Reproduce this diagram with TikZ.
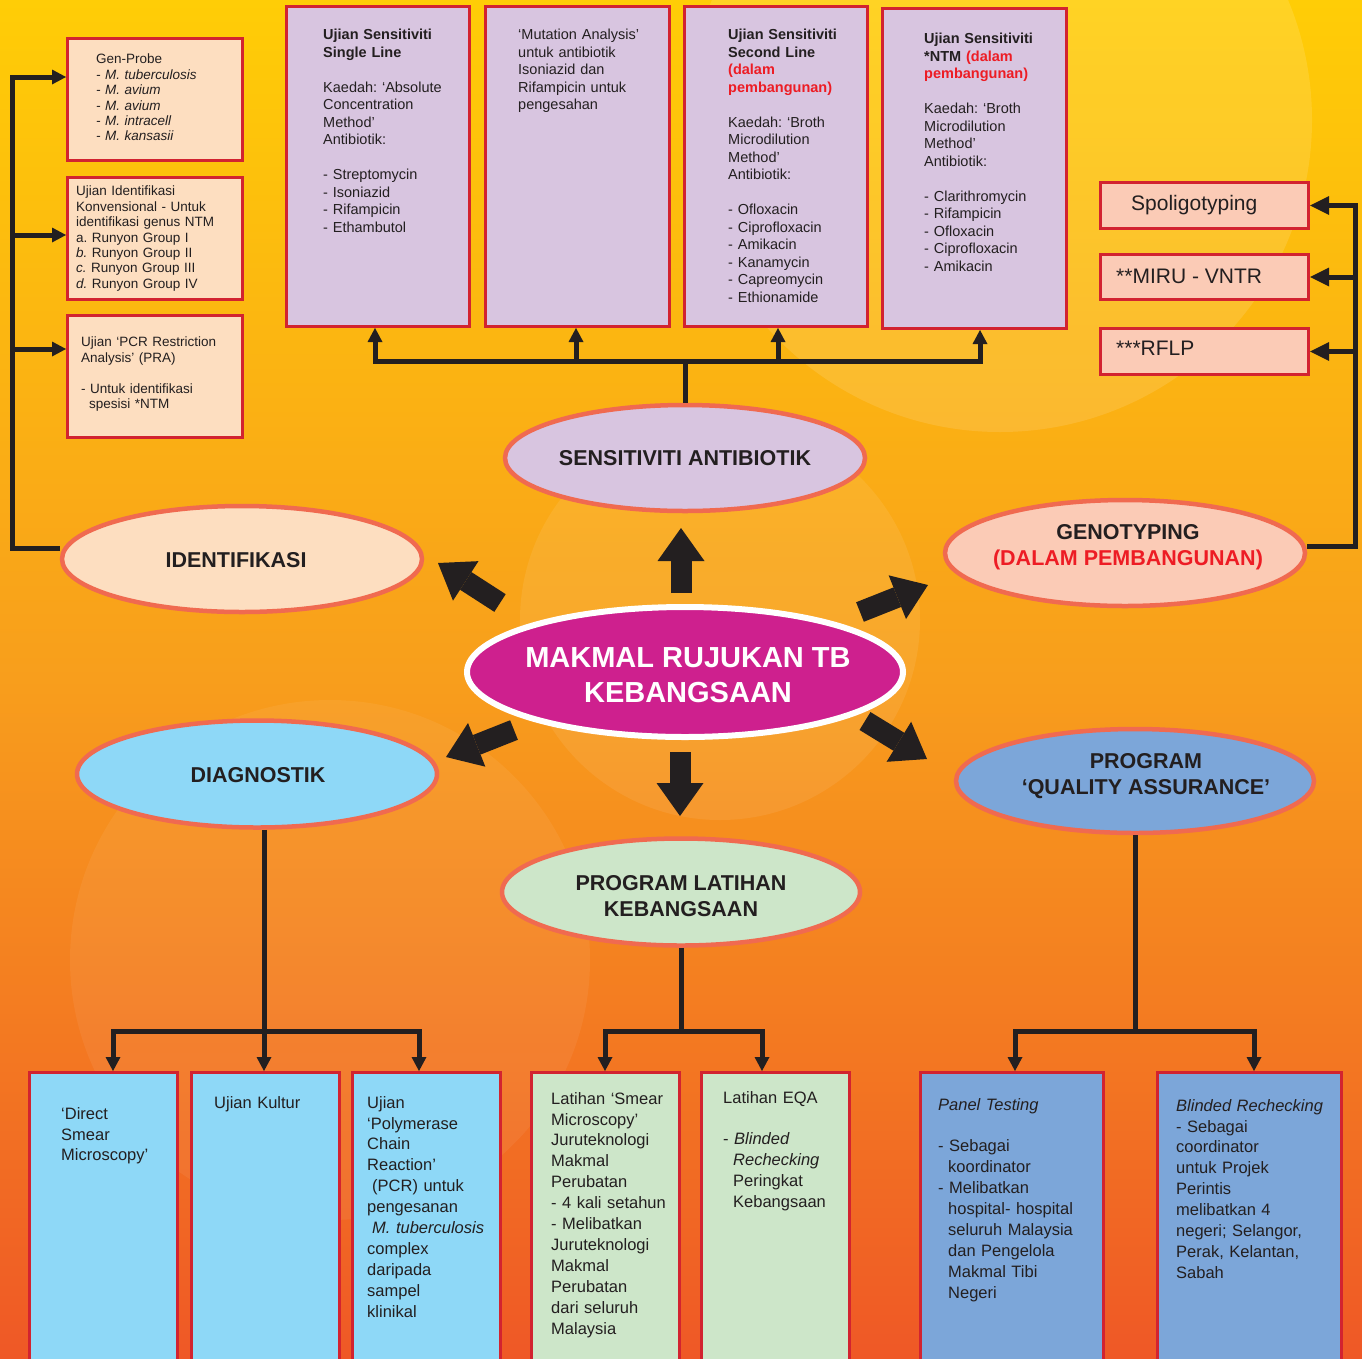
\documentclass[tikz,border=0pt]{standalone}
\usepackage{fontspec}
\setmainfont{Liberation Sans}
\usetikzlibrary{arrows.meta,shapes.geometric,calc}
\setlength\parindent{0pt}
\frenchspacing

\definecolor{teks}{RGB}{35,31,32}
\definecolor{hitam}{RGB}{35,31,32}
\definecolor{merah}{RGB}{237,28,36}
\definecolor{kotakmerah}{RGB}{210,35,48}
\definecolor{elipgaris}{RGB}{240,106,80}
\definecolor{ungu}{RGB}{216,197,224}
\definecolor{pic}{RGB}{253,222,192}
\definecolor{salmon}{RGB}{251,203,182}
\definecolor{biru}{RGB}{142,216,247}
\definecolor{hijau}{RGB}{205,230,201}
\definecolor{birutua}{RGB}{124,166,217}
\definecolor{pusatwarna}{RGB}{206,32,142}
\definecolor{kuning}{RGB}{255,205,6}
\definecolor{oren}{RGB}{248,158,28}
\definecolor{merahoren}{RGB}{239,88,38}

\newcommand\fkecil{\fontsize{13.5}{15.4}\selectfont}
\newcommand\fatas{\fontsize{14.5}{17.5}\selectfont}
\newcommand\fbawah{\fontsize{16.5}{20.9}\selectfont}
\newcommand\fkanan{\fontsize{21}{25}\selectfont}
\newcommand\felip{\fontsize{21.5}{26}\selectfont\bfseries}
\newcommand\fpusat{\fontsize{29}{35}\selectfont\bfseries}

\begin{document}
\begin{tikzpicture}[x=1pt,y=-1pt,
  garis/.style={line width=5pt,draw=hitam},
  ujung/.style={-{Triangle[length=14pt,width=15pt,line width=0pt]}},
  duaujung/.style={{Triangle[length=14pt,width=15pt,line width=0pt]}-{Triangle[length=14pt,width=15pt,line width=0pt]}},
  ujungbesar/.style={-{Triangle[length=19pt,width=19pt,line width=0pt]}},
  kotak/.style={draw=kotakmerah,line width=3pt,anchor=north west,inner sep=0pt},
  isi/.style={anchor=north west,inner sep=0pt,align=left,text width=200pt,text=teks},
  elip/.style={ellipse,draw=elipgaris,line width=4.5pt,inner sep=0pt},
  judul/.style={inner sep=0pt,align=center,font=\felip,text=teks},
  blok/.style={line width=21pt,draw=hitam,-{Triangle[length=33pt,width=47pt,line width=0pt]}}]
\useasboundingbox (0,0) rectangle (1362,1358);
\clip (0,0) rectangle (1362,1358);
% latar
\shade[top color=kuning,bottom color=merahoren,middle color=oren] (0,0) rectangle (1362,1358);
\fill[white,opacity=.12] (1000,120) circle (312);
\fill[white,opacity=.08] (720,620) circle (200);
\fill[white,opacity=.06] (330,960) circle (260);

% kotak kiri, atas, kanan
\node[kotak,fill=pic,minimum width=175pt,minimum height=122pt] (gen) at (66,37) {};
\node[kotak,fill=pic,minimum width=175pt,minimum height=122pt] (konv) at (66,176) {};
\node[kotak,fill=pic,minimum width=175pt,minimum height=122pt] (pra) at (66,314) {};
\node[kotak,fill=ungu,minimum width=183pt,minimum height=320pt] (single) at (285,5) {};
\node[kotak,fill=ungu,minimum width=184pt,minimum height=320pt] (mutasi) at (484,5) {};
\node[kotak,fill=ungu,minimum width=183pt,minimum height=320pt] (second) at (683,5) {};
\node[kotak,fill=ungu,minimum width=184pt,minimum height=320pt] (ntm) at (881,7) {};
\node[kotak,fill=salmon,minimum width=208pt,minimum height=46pt] (spol) at (1099,181) {};
\node[kotak,fill=salmon,minimum width=208pt,minimum height=45pt] (miru) at (1099,253) {};
\node[kotak,fill=salmon,minimum width=208pt,minimum height=46pt] (rflp) at (1099,327) {};
% kotak bawah
\foreach \nama/\x/\w/\warna in {smear/28/148/biru,kultur/190/148/biru,pcr/351/148/biru,
    latsmear/530/148/hijau,eqa/700/148/hijau,panel/919/183/birutua,blinded/1156/184/birutua}
  \node[kotak,fill=\warna,minimum width=\w pt,minimum height=300pt] (\nama) at (\x,1071) {};

% elips
\node[elip,fill=pic,minimum width=360pt,minimum height=106pt] (ident) at (242,559) {};
\node[elip,fill=ungu,minimum width=360pt,minimum height=106pt] (sens) at (685,458) {};
\node[elip,fill=salmon,minimum width=360pt,minimum height=106pt] (geno) at (1125,553) {};
\node[ellipse,fill=pusatwarna,draw=white,line width=6pt,inner sep=0pt,minimum width=436pt,minimum height=130pt] (pusat) at (685,672) {};
\node[elip,fill=biru,minimum width=360pt,minimum height=107pt] (diag) at (257,774) {};
\node[elip,fill=hijau,minimum width=358pt,minimum height=107pt] (latihan) at (681,892) {};
\node[elip,fill=birutua,minimum width=358pt,minimum height=104pt] (qa) at (1135,781) {};

\node[judul] (ident-t) at ($(ident)+(-6,1)$) {IDENTIFIKASI};
\node[judul] (sens-t) at (sens) {SENSITIVITI ANTIBIOTIK};
\node[judul] (geno-t) at ($(geno)+(3,-6)$) {GENOTYPING\\\textcolor{merah}{(DALAM PEMBANGUNAN)}};
\node[judul,font=\fpusat,text=white] (pusat-t) at ($(pusat)+(3,3)$) {MAKMAL RUJUKAN TB\\KEBANGSAAN};
\node[judul] (diag-t) at ($(diag)+(1,1)$) {DIAGNOSTIK};
\node[judul] (latihan-t) at ($(latihan)+(0,4)$) {PROGRAM LATIHAN\\KEBANGSAAN};
\node[judul] (qa-t) at ($(qa)+(11,-5)$) {PROGRAM\\‘QUALITY ASSURANCE’};

% anak panah besar
\coordinate (bu-a) at (681,593);  \coordinate (bu-b) at (681,528);
\coordinate (bd-a) at (680,752);  \coordinate (bd-b) at (680,816);
\coordinate (bul-a) at (500,603); \coordinate (bul-b) at (438,563);
\coordinate (bdl-a) at (514,730); \coordinate (bdl-b) at (446,757);
\coordinate (bur-a) at (860,612); \coordinate (bur-b) at (928,585);
\coordinate (bdr-a) at (865,721); \coordinate (bdr-b) at (927,759);
\foreach \p in {bu,bd,bul,bdl,bur,bdr}
  \draw[blok] (\p-a) -- (\p-b);

% penyambung kiri
\coordinate (lb) at (12,548);
\coordinate (l1) at (12,77);
\coordinate (l2) at (12,235);
\coordinate (l3) at (12,349);
\draw[garis,ujung] (lb -| ident.west) -- (lb) -- (l1) -- (l1 -| gen.west);
\draw[garis,ujung] (l2) -- (l2 -| konv.west);
\draw[garis,ujung] (l3) -- (l3 -| pra.west);
% penyambung atas
\coordinate (t1) at (375,361);
\coordinate (t2) at (576,361);
\coordinate (t3) at (778,361);
\coordinate (t4) at (980,361);
\draw[garis] (sens.north) -- (sens.north |- t1);
\draw[garis,duaujung] (t1 |- single.south) -- (t1) -- (t4) -- (t4 |- ntm.south);
\draw[garis,ujung] (t2) -- (t2 |- mutasi.south);
\draw[garis,ujung] (t3) -- (t3 |- second.south);
% penyambung kanan
\coordinate (rb) at (1355,546);
\draw[garis,ujungbesar] (rb -| geno.east) -- (rb) |- (spol.east);
\draw[garis,ujungbesar] (rb |- miru.east) -- (miru.east);
\draw[garis,ujungbesar] (rb |- rflp.east) -- (rflp.east);
% penyambung bawah
\coordinate (d1) at (113,1031);
\coordinate (d2) at (264,1031);
\coordinate (d3) at (419,1031);
\draw[garis,duaujung] (d1 |- smear.north) -- (d1) -- (d3) -- (d3 |- pcr.north);
\draw[garis,ujung] (d2 |- diag.south) -- (d2 |- kultur.north);
\coordinate (e1) at (605,1031);
\coordinate (e2) at (762,1031);
\draw[garis] (latihan.south) -- (latihan.south |- e1);
\draw[garis,duaujung] (e1 |- latsmear.north) -- (e1) -- (e2) -- (e2 |- eqa.north);
\coordinate (q1) at (1015,1031);
\coordinate (q2) at (1254,1031);
\draw[garis] (qa.south) -- (qa.south |- q1);
\draw[garis,duaujung] (q1 |- panel.north) -- (q1) -- (q2) -- (q2 |- blinded.north);

% teks kotak
\node[isi,font=\fkecil] (gen-t) at (96,54) {Gen-Probe\\\textit{- M. tuberculosis}\\\textit{- M. avium}\\\textit{- M. avium}\\\textit{- M. intracell}\\\textit{- M. kansasii}};
\node[isi,font=\fkecil] (konv-t) at (76,186) {Ujian Identifikasi\\Konvensional - Untuk\\identifikasi genus NTM\\a. Runyon Group I\\\textit{b.} Runyon Group II\\\textit{c.} Runyon Group III\\\textit{d.} Runyon Group IV};
\node[isi,font=\fkecil] (pra-t) at (81,337) {Ujian ‘PCR Restriction\\Analysis' (PRA)\\~\\- Untuk identifikasi\\\hspace*{8pt}spesisi *NTM};
\node[isi,font=\fatas] (single-t) at (323,29) {\textbf{Ujian Sensitiviti}\\\textbf{Single Line}\\~\\Kaedah: ‘Absolute\\Concentration\\Method’\\Antibiotik:\\~\\- Streptomycin\\- Isoniazid\\- Rifampicin\\- Ethambutol};
\node[isi,font=\fatas] (mutasi-t) at (518,29) {‘Mutation Analysis’\\untuk antibiotik\\Isoniazid dan\\Rifampicin untuk\\pengesahan};
\node[isi,font=\fatas] (second-t) at (728,29) {\textbf{Ujian Sensitiviti}\\\textbf{Second Line}\\\textcolor{merah}{\textbf{(dalam}}\\\textcolor{merah}{\textbf{pembangunan)}}\\~\\Kaedah: ‘Broth\\Microdilution\\Method’\\Antibiotik:\\~\\- Ofloxacin\\- Ciprofloxacin\\- Amikacin\\- Kanamycin\\- Capreomycin\\- Ethionamide};
\node[isi,font=\fatas] (ntm-t) at (924,33) {\textbf{Ujian Sensitiviti}\\\textbf{*NTM} \textcolor{merah}{\textbf{(dalam}}\\\textcolor{merah}{\textbf{pembangunan)}}\\~\\Kaedah: ‘Broth\\Microdilution\\Method’\\Antibiotik:\\~\\- Clarithromycin\\- Rifampicin\\- Ofloxacin\\- Ciprofloxacin\\- Amikacin};
\node[anchor=base west,inner sep=0pt,font=\fkanan,text=teks] (spol-t) at (1131,210.5) {Spoligotyping};
\node[anchor=base west,inner sep=0pt,font=\fkanan,text=teks] (miru-t) at (1116,283.5) {**MIRU - VNTR};
\node[anchor=base west,inner sep=0pt,font=\fkanan,text=teks] (rflp-t) at (1116,355.5) {***RFLP};
\node[isi,font=\fbawah] (smear-t) at (61,1107) {‘Direct\\Smear\\Microscopy’};
\node[isi,font=\fbawah] (kultur-t) at (214,1096) {Ujian Kultur};
\node[isi,font=\fbawah] (pcr-t) at (367,1096) {Ujian\\‘Polymerase\\Chain\\Reaction’\\\hspace*{5pt}(PCR) untuk\\pengesanan\\\hspace*{5pt}\textit{M. tuberculosis}\\complex\\daripada\\sampel\\klinikal};
\node[isi,font=\fbawah] (latsmear-t) at (551,1092) {Latihan ‘Smear\\Microscopy’\\Juruteknologi\\Makmal\\Perubatan\\- 4 kali setahun\\- Melibatkan\\Juruteknologi\\Makmal\\Perubatan\\dari seluruh\\Malaysia};
\node[isi,font=\fbawah] (eqa-t) at (723,1091) {Latihan EQA\\~\\- \textit{Blinded}\\\hspace*{10pt}\textit{Rechecking}\\\hspace*{10pt}Peringkat\\\hspace*{10pt}Kebangsaan};
\node[isi,font=\fbawah] (panel-t) at (938,1098) {\textit{Panel Testing}\\~\\- Sebagai\\\hspace*{10pt}koordinator\\- Melibatkan\\\hspace*{10pt}hospital- hospital\\\hspace*{10pt}seluruh Malaysia\\\hspace*{10pt}dan Pengelola\\\hspace*{10pt}Makmal Tibi\\\hspace*{10pt}Negeri};
\node[isi,font=\fbawah] (blinded-t) at (1176,1099) {\textit{Blinded Rechecking}\\- Sebagai\\coordinator\\untuk Projek\\Perintis\\melibatkan 4\\negeri; Selangor,\\Perak, Kelantan,\\Sabah};
\end{tikzpicture}
\end{document}
